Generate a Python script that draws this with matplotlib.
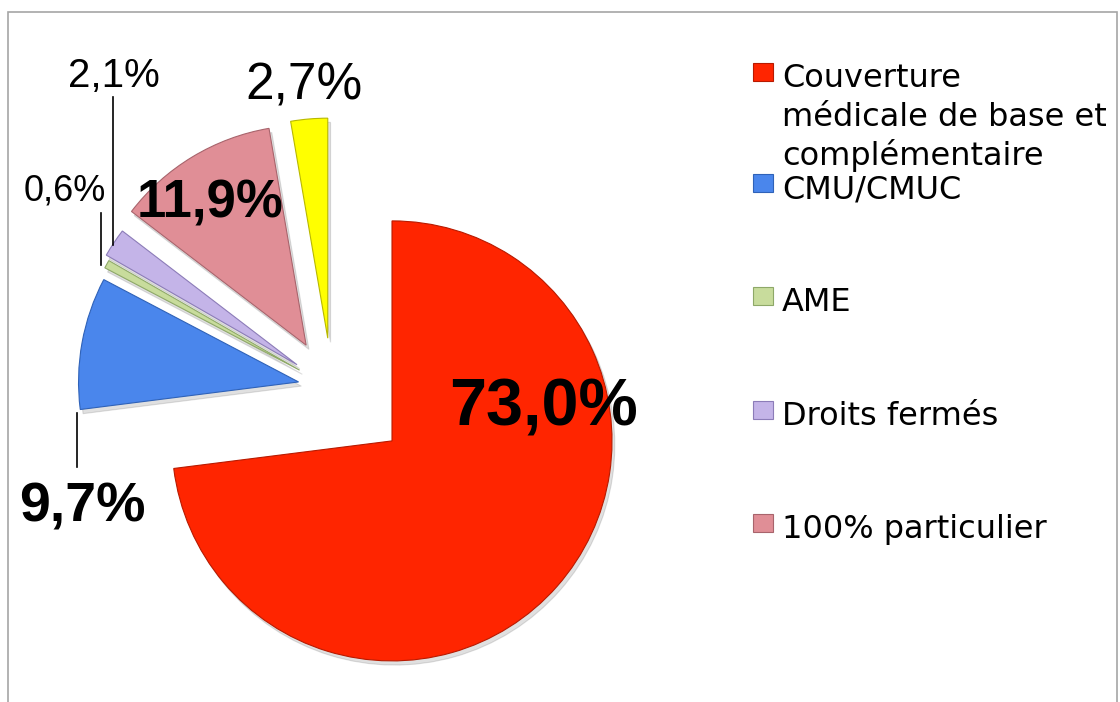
import matplotlib.pyplot as plt
from matplotlib.patches import Rectangle

plt.rcParams['font.family'] = ['Liberation Sans', 'DejaVu Sans']

# données (%)
valeurs = [73.0, 9.7, 0.6, 2.1, 11.9, 2.7]
couleurs = ['#ff2500', '#4a86ec', '#c8dc9c', '#c4b4e8', '#e08e96', '#ffff00']
bords = ['#b81a00', '#2f62b8', '#8ea868', '#8c7cb8', '#a8646c', '#b8b800']
legende = ['Couverture\nmédicale de base et\ncomplémentaire', 'CMU/CMUC', 'AME',
           'Droits fermés', '100% particulier']
eclatement = [80, 34, 37, 42, 50, 50]

H = 702


def pct(v):
    return ('%.1f%%' % v).replace('.', ',')


fig = plt.figure(figsize=(11.2, 7.02), dpi=100)
ax = fig.add_axes([0, 0, 1, 1])

wedges, _ = ax.pie(valeurs, colors=couleurs, explode=eclatement, radius=220,
                   center=(332, H - 388), startangle=90, counterclock=False,
                   wedgeprops=dict(linewidth=0.8),
                   shadow=dict(ox=2, oy=-3, shade=0.0, alpha=0.18, color='#555555'))
for w, b in zip(wedges, bords):
    w.set_edgecolor(b)

ax.set_xlim(0, 1120)
ax.set_ylim(0, H)
ax.set_aspect('auto')
ax.axis('off')

# cadre
ax.add_patch(Rectangle((8, -10), 1109, H - 12 + 10, fill=False, edgecolor='#a6a6a6', lw=1.2))

# étiquettes de données
ax.text(543, H - 408, pct(valeurs[0]), fontsize=48, fontweight='bold', ha='center', va='center')
ax.text(82, H - 507, pct(valeurs[1]), fontsize=40, fontweight='bold', ha='center', va='center')
ax.text(65, H - 191, pct(valeurs[2]), fontsize=26, ha='center', va='center')
ax.text(114, H - 76, pct(valeurs[3]), fontsize=29, ha='center', va='center')
ax.text(210, H - 203, pct(valeurs[4]), fontsize=38, fontweight='bold', ha='center', va='center')
ax.text(304, H - 86, pct(valeurs[5]), fontsize=37, ha='center', va='center')

# traits de rappel
ax.plot([77, 77], [H - 413, H - 467], color='black', lw=1.2)
ax.plot([113, 113], [H - 97, H - 245], color='black', lw=1.2)
ax.plot([101, 101], [H - 213, H - 265], color='black', lw=1.2)

# légende
for i, lab in enumerate(legende):
    base = 87 if i == 0 else 198 + (i - 1) * 113.4
    ax.add_patch(Rectangle((753, H - base + 6), 20, 18, facecolor=couleurs[i],
                           edgecolor=bords[i], lw=0.8))
    for j, ligne in enumerate(lab.split('\n')):
        ax.text(782, H - base - j * 39, ligne, fontsize=23, family='DejaVu Sans',
                ha='left', va='baseline')

fig.savefig('out.png', dpi=100)
